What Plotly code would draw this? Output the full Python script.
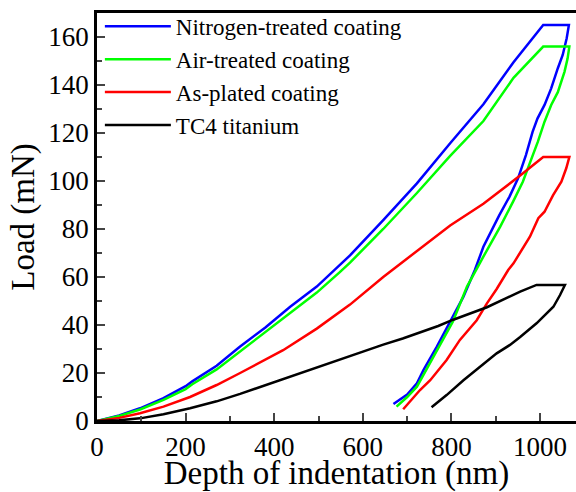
import plotly.graph_objects as go

# Nitrogen-treated coating (loading, hold, unloading)
n2_depth = [0, 50, 97, 150, 200, 215, 270, 323, 380, 436, 496, 548, 571, 646, 722, 797, 872, 940, 977, 1007,
            1065, 1060, 1051, 1040, 1025, 1010, 994, 983, 968, 950, 931, 908, 872, 853, 827, 797, 767, 737, 722, 700, 669]
n2_load = [0, 2.3, 5.3, 9.5, 14.5, 16.5, 23, 31, 39, 47.6, 56, 65, 69, 83.7, 99, 115.7, 132, 149.5, 158, 165,
           165, 159.5, 152.5, 147, 138.6, 131.7, 126, 120.5, 110.8, 101, 93.5, 85.8, 72.6, 63, 51.8, 41.4, 31, 21.3, 15.7, 11, 7.1]

# Air-treated coating
air_depth = [0, 50, 97, 150, 200, 215, 270, 323, 380, 436, 496, 548, 571, 646, 722, 797, 872, 940, 977, 1007,
             1066, 1062, 1055, 1040, 1025, 1010, 995, 976, 961, 939, 923, 910, 872, 835, 803, 773, 743, 722, 700, 676]
air_load = [0, 2.1, 4.8, 8.8, 13.3, 15.3, 21.5, 29, 37, 45, 53.5, 62, 66, 80, 95, 110.5, 125, 143, 150, 156,
            156, 151, 145.5, 137, 131.7, 124.7, 116.4, 106.7, 99.7, 91.4, 85.8, 81, 68.5, 56, 41.4, 31.5, 21.5, 14.3, 10, 6]

# As-plated coating
asp_depth = [0, 50, 97, 150, 210, 270, 323, 420, 496, 571, 646, 722, 797, 872, 925, 960, 1007,
             1066, 1059, 1048, 1029, 1010, 996, 977, 940, 928, 902, 880, 857, 819, 789, 752, 729, 691]
asp_load = [0, 1.3, 3.2, 6, 10, 15, 20, 29.5, 38.5, 48.5, 60, 71, 81.5, 90.5, 98, 103, 110,
            110, 105.3, 99.7, 94, 87.2, 84.5, 76.8, 65.7, 62.9, 55, 49, 42, 33.8, 25.4, 17, 12.9, 4.9]

# TC4 titanium
tc4_depth = [0, 50, 97, 150, 210, 270, 323, 436, 496, 548, 600, 646, 690, 729, 770, 804, 880, 955, 978, 992,
             1056, 1045, 1030, 992, 955, 932, 902, 865, 827, 789, 755]
tc4_load = [0, 0.3, 1.1, 2.8, 5.3, 8.2, 11.3, 18.5, 22.5, 25.5, 28.8, 31.8, 34.4, 36.8, 39.6, 42.2, 47.4, 53.9, 55.8, 56.7,
            56.7, 52.5, 47.6, 40.7, 35, 31.7, 28.2, 22.6, 17, 10.8, 5.7]

names = ["Nitrogen-treated coating", "Air-treated coating", "As-plated coating", "TC4 titanium"]
colors = ["#0000FF", "#00FF00", "#FF0000", "#000000"]
series = [(n2_depth, n2_load), (air_depth, air_load), (asp_depth, asp_load), (tc4_depth, tc4_load)]

x_ticks = [0, 200, 400, 600, 800, 1000]
y_ticks = [0, 20, 40, 60, 80, 100, 120, 140, 160]

FONT = "Liberation Serif"

fig = go.Figure()
for (xs, ys), nm, c in zip(series, names, colors):
    fig.add_trace(go.Scatter(x=xs, y=ys, mode="lines", name=nm,
                             line=dict(color=c, width=2.5)))

fig.update_layout(
    width=576, height=492,
    margin=dict(l=97, r=0, t=13, b=71),
    paper_bgcolor="white", plot_bgcolor="white",
    font=dict(family=FONT, color="black"),
    showlegend=True,
    legend=dict(x=0.006, y=1.02, xanchor="left", yanchor="top",
                bgcolor="rgba(0,0,0,0)", font=dict(size=23, family=FONT, color="black"),
                itemwidth=66, tracegroupgap=0),
)
fig.update_xaxes(
    range=[0, 1081], tickvals=x_ticks, ticks="inside", ticklen=8, tickwidth=2,
    showline=True, linewidth=2.5, linecolor="black", mirror=True,
    showgrid=False, zeroline=False, tickfont=dict(size=27, family=FONT, color="black"),
    minor=dict(dtick=100, ticks="inside", ticklen=5, tickwidth=2, showgrid=False),
    title=dict(text="Depth of indentation (nm)", font=dict(size=33, family=FONT, color="black"), standoff=6),
)
fig.update_yaxes(
    range=[0, 170], tickvals=y_ticks, ticks="inside", ticklen=8, tickwidth=2,
    showline=True, linewidth=2.5, linecolor="black", mirror=False,
    showgrid=False, zeroline=False, tickfont=dict(size=27, family=FONT, color="black"),
    minor=dict(dtick=10, ticks="inside", ticklen=5, tickwidth=2, showgrid=False),
    title=dict(text="Load (mN)", font=dict(size=33, family=FONT, color="black"), standoff=4),
)

fig.write_html("out.html")
